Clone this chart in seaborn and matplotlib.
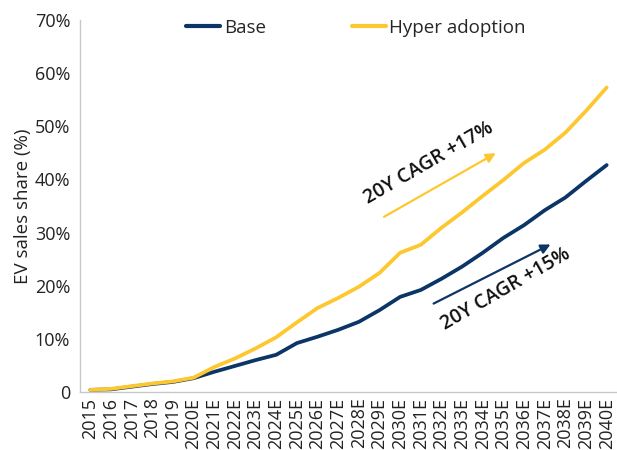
import pandas as pd
import matplotlib
matplotlib.use("Agg")
import matplotlib.pyplot as plt
import seaborn as sns
import numpy as np

# data (EV sales share, %)
years = ["2015", "2016", "2017", "2018", "2019", "2020E", "2021E", "2022E", "2023E",
         "2024E", "2025E", "2026E", "2027E", "2028E", "2029E", "2030E", "2031E", "2032E",
         "2033E", "2034E", "2035E", "2036E", "2037E", "2038E", "2039E", "2040E"]
base = [0.4, 0.5, 1.0, 1.5, 1.9, 2.6, 3.8, 4.9, 6.0, 7.0, 9.2, 10.4, 11.7, 13.2,
        15.4, 17.9, 19.2, 21.3, 23.6, 26.2, 29.0, 31.4, 34.2, 36.6, 39.7, 42.7]
hyper = [0.4, 0.6, 1.1, 1.6, 2.0, 2.7, 4.7, 6.3, 8.2, 10.3, 13.1, 15.8, 17.7, 19.8,
         22.4, 26.2, 27.7, 30.9, 33.8, 36.9, 39.9, 43.1, 45.6, 48.8, 52.9, 57.3]
series_names = ["Base", "Hyper adoption"]

NAVY = "#0b3567"
GOLD = "#fdc82f"

df = pd.DataFrame({
    "year": years * 2,
    "share": np.array(base + hyper) / 100,
    "scenario": [series_names[0]] * len(years) + [series_names[1]] * len(years),
})

sns.set_style("white")
plt.rcParams["font.family"] = ["Open Sans", "DejaVu Sans"]

fig = plt.figure(figsize=(6.17, 4.5), dpi=100)
ax = fig.add_axes([80 / 617, 1 - 392 / 450, 537 / 617, 372 / 450])

sns.lineplot(data=df, x="year", y="share", hue="scenario", sort=False,
             palette={"Base": NAVY, "Hyper adoption": GOLD}, linewidth=2.7,
             ax=ax, legend=True)

ax.set_xlim(-0.5, len(years) - 0.5)
ax.set_ylim(0, 0.7)
ax.set_yticks(np.arange(0, 0.71, 0.1))
ax.set_yticklabels(["0"] + [f"{int(v)}%" for v in range(10, 71, 10)], fontsize=13, color="#222222")
ax.set_xticks(range(len(years)))
ax.set_xticklabels(years, rotation=90, fontsize=13, color="#222222",
                   family=["Liberation Sans Narrow", "Open Sans", "DejaVu Sans"])
ax.set_xticks(np.arange(-0.5, len(years), 1), minor=True)
ax.tick_params(axis="x", which="major", length=0, pad=4)
ax.tick_params(axis="x", which="minor", length=5, color="#c8c8c8", direction="out")
ax.tick_params(axis="y", length=4, color="#c8c8c8", direction="out", pad=3)
ax.set_xlabel("")
ax.set_ylabel("EV sales share (%)", fontsize=13.5, color="#222222", labelpad=2)

for side in ["top", "right"]:
    ax.spines[side].set_visible(False)
for side in ["left", "bottom"]:
    ax.spines[side].set_color("#c8c8c8")
    ax.spines[side].set_linewidth(1)

leg = ax.legend(loc="center", bbox_to_anchor=(356 / 617, 1 - 28 / 450),
                bbox_transform=fig.transFigure, ncol=2, frameon=False,
                fontsize=13.5, handlelength=1.8, handletextpad=0.2, columnspacing=4.6)
for line in leg.get_lines():
    line.set_linewidth(3)

# CAGR annotations
ax.annotate("", xy=(19.75, 0.452), xytext=(14.1, 0.327),
            arrowprops=dict(arrowstyle="-|>", color=GOLD, lw=1.6, mutation_scale=14))
ax.text(16.4, 0.431, "20Y CAGR +17%", rotation=30, ha="center", va="center",
        fontsize=14, fontweight="semibold", color="#111111", rotation_mode="anchor")
ax.annotate("", xy=(22.4, 0.28), xytext=(16.5, 0.164),
            arrowprops=dict(arrowstyle="-|>", color=NAVY, lw=1.6, mutation_scale=14))
ax.text(20.1, 0.194, "20Y CAGR +15%", rotation=30, ha="center", va="center",
        fontsize=14, fontweight="semibold", color="#111111", rotation_mode="anchor")

fig.savefig("out.png", dpi=100)
